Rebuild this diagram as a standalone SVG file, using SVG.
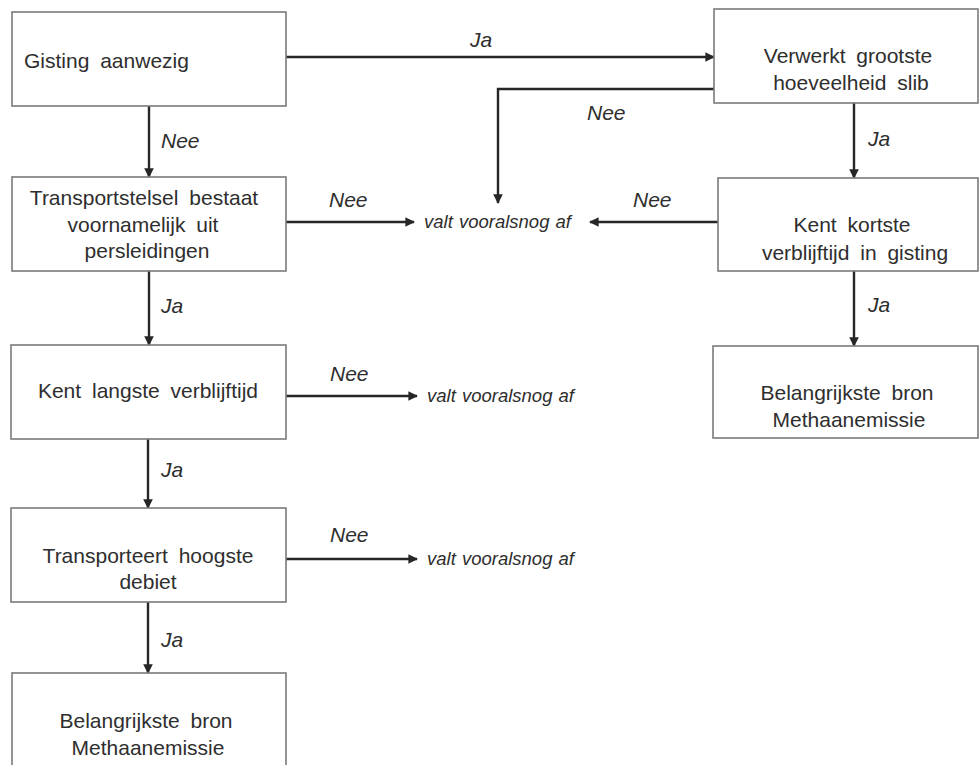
<svg xmlns="http://www.w3.org/2000/svg" width="980" height="765" viewBox="0 0 980 765">
  <style>
    .box { fill: #ffffff; stroke: #7a7a7a; stroke-width: 1.6; }
    .txt { font-family: "Liberation Sans", Arial, sans-serif; font-size: 21px; fill: #2e2e2e; text-anchor: middle; word-spacing: 5px; }
    .lbl { font-family: "Liberation Sans", Arial, sans-serif; font-size: 21px; font-style: italic; fill: #2e2e2e; }
    .end { font-family: "Liberation Sans", Arial, sans-serif; font-size: 18.5px; font-style: italic; fill: #2e2e2e; word-spacing: 1px; }
    .wire { fill: none; stroke: #262626; stroke-width: 2.4; marker-end: url(#head); }
  </style>
  <defs>
    <marker id="head" viewBox="0 0 10 10" refX="9" refY="5" markerWidth="4" markerHeight="4" orient="auto" markerUnits="strokeWidth">
      <path d="M0,0 L10,5 L0,10 z" fill="#262626"/>
    </marker>
  </defs>
  <rect width="980" height="765" fill="#ffffff"/>

  <!-- connectors -->
  <g id="connectors">
    <path class="wire" d="M286,57 H714"/>
    <path class="wire" d="M714,89 H498 V203"/>
    <path class="wire" d="M149,106 V177"/>
    <path class="wire" d="M286,222 H414"/>
    <path class="wire" d="M718,222 H590"/>
    <path class="wire" d="M149,271 V345"/>
    <path class="wire" d="M854,103 V178"/>
    <path class="wire" d="M854,271 V346"/>
    <path class="wire" d="M286,396 H417"/>
    <path class="wire" d="M148,439 V508"/>
    <path class="wire" d="M286,559 H417"/>
    <path class="wire" d="M148,602 V673"/>

    <text class="lbl" x="470" y="47">Ja</text>
    <text class="lbl" x="587" y="120">Nee</text>
    <text class="lbl" x="161" y="148">Nee</text>
    <text class="lbl" x="329" y="207">Nee</text>
    <text class="lbl" x="633" y="207">Nee</text>
    <text class="lbl" x="868" y="146">Ja</text>
    <text class="lbl" x="868" y="312">Ja</text>
    <text class="lbl" x="161" y="313">Ja</text>
    <text class="lbl" x="330" y="381">Nee</text>
    <text class="lbl" x="161" y="477">Ja</text>
    <text class="lbl" x="330" y="542">Nee</text>
    <text class="lbl" x="161" y="647">Ja</text>
  </g>

  <!-- terminal notes -->
  <g id="end-1"><text class="end" x="424" y="228">valt vooralsnog af</text></g>
  <g id="end-2"><text class="end" x="427" y="402">valt vooralsnog af</text></g>
  <g id="end-3"><text class="end" x="427" y="565">valt vooralsnog af</text></g>

  <!-- left column -->
  <g id="gisting">
    <rect class="box" x="12" y="12" width="274" height="94"/>
    <text class="txt" x="24" y="68" style="text-anchor:start">Gisting aanwezig</text>
  </g>
  <g id="transportstelsel">
    <rect class="box" x="12" y="177" width="274" height="94"/>
    <text class="txt" x="144" y="205">Transportstelsel bestaat</text>
    <text class="txt" x="143" y="232">voornamelijk uit</text>
    <text class="txt" x="147" y="258">persleidingen</text>
  </g>
  <g id="langste-verblijftijd">
    <rect class="box" x="11" y="345" width="275" height="94"/>
    <text class="txt" x="148" y="398">Kent langste verblijftijd</text>
  </g>
  <g id="hoogste-debiet">
    <rect class="box" x="11" y="508" width="275" height="94"/>
    <text class="txt" x="148" y="563">Transporteert hoogste</text>
    <text class="txt" x="148" y="589">debiet</text>
  </g>
  <g id="bron-links">
    <rect class="box" x="12" y="673" width="274" height="100"/>
    <text class="txt" x="146" y="728">Belangrijkste bron</text>
    <text class="txt" x="148" y="755">Methaanemissie</text>
  </g>

  <!-- right column -->
  <g id="grootste-slib">
    <rect class="box" x="714" y="9" width="264" height="94"/>
    <text class="txt" x="848" y="63">Verwerkt grootste</text>
    <text class="txt" x="851" y="90">hoeveelheid slib</text>
  </g>
  <g id="kortste-verblijftijd">
    <rect class="box" x="718" y="178" width="260" height="93"/>
    <text class="txt" x="852" y="232">Kent kortste</text>
    <text class="txt" x="855" y="260">verblijftijd in gisting</text>
  </g>
  <g id="bron-rechts">
    <rect class="box" x="713" y="346" width="265" height="92"/>
    <text class="txt" x="847" y="400">Belangrijkste bron</text>
    <text class="txt" x="849" y="427">Methaanemissie</text>
  </g>
</svg>
